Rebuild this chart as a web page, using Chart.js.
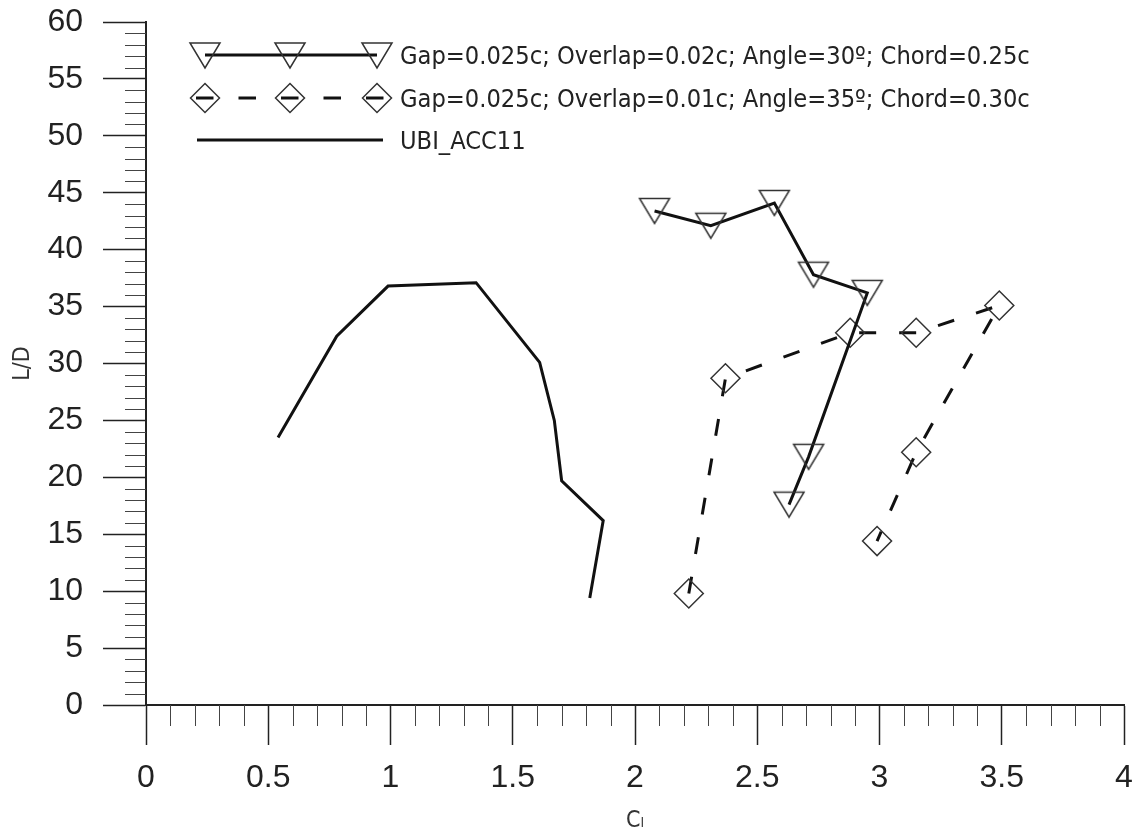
<!DOCTYPE html>
<html>
<head>
<meta charset="utf-8">
<script src="https://cdn.jsdelivr.net/npm/chart.js@4/dist/chart.umd.min.js"></script>
<style>
  body { margin: 0; background: #fff; }
  #wrap { position: relative; width: 1142px; height: 839px; }
  #legend { position: absolute; left: 0; top: 0; font-family: "DejaVu Sans Condensed", "DejaVu Sans", sans-serif; font-size: 25.2px; color: #222; }
  .row { position: absolute; left: 188px; height: 40px; display: flex; align-items: center; white-space: nowrap; }
  .row svg { display: block; }
</style>
</head>
<body>
<div id="wrap">
  <canvas id="my-chart" width="1142" height="839"></canvas>
  <div id="legend"></div>
</div>
<script>
// UBI_ACC11 baseline airfoil
const ubiCl = [0.54, 0.78, 0.99, 1.35, 1.61, 1.67, 1.70, 1.87, 1.815];
const ubiLD = [23.5, 32.4, 36.8, 37.1, 30.1, 25.0, 19.7, 16.2, 9.4];
// Gap=0.025c; Overlap=0.02c; Angle=30; Chord=0.25c
const cfg30Cl = [2.08, 2.31, 2.57, 2.73, 2.95, 2.71, 2.63];
const cfg30LD = [43.4, 42.1, 44.1, 37.8, 36.2, 21.8, 17.6];
// Gap=0.025c; Overlap=0.01c; Angle=35; Chord=0.30c
const cfg35Cl = [2.22, 2.37, 2.88, 3.15, 3.49, 3.15, 2.99];
const cfg35LD = [9.8, 28.7, 32.7, 32.7, 35.1, 22.2, 14.4];

const seriesNames = [
  'Gap=0.025c; Overlap=0.02c; Angle=30º; Chord=0.25c',
  'Gap=0.025c; Overlap=0.01c; Angle=35º; Chord=0.30c',
  'UBI_ACC11'
];

// axis ranges and ticks
const xRange = [0, 4];
const yRange = [0, 60];
const xMajorStep = 0.5, xMinorStep = 0.1;
const yMajorStep = 5, yMinorStep = 1;
const xTitle = 'Cₗ';
const yTitle = 'L/D';

const toPoints = (xs, ys) => xs.map((x, i) => ({ x: x, y: ys[i] }));

// hollow down-pointing triangle used as marker
function makeTriangle() {
  const c = document.createElement('canvas');
  c.width = 34; c.height = 30;
  const g = c.getContext('2d');
  g.strokeStyle = '#333';
  g.lineWidth = 1.5;
  g.beginPath();
  g.moveTo(2, 2.5); g.lineTo(32, 2.5); g.lineTo(17, 27.5); g.closePath();
  g.stroke();
  return c;
}
const triMarker = makeTriangle();

// small ticks between the labelled ones
const minorTicks = {
  id: 'minorTicks',
  afterDraw(chart) {
    const { ctx, scales: { x, y } } = chart;
    ctx.save();
    ctx.strokeStyle = '#444';
    ctx.lineWidth = 1;
    ctx.beginPath();
    const nx = Math.round((xRange[1] - xRange[0]) / xMinorStep);
    for (let i = 0; i <= nx; i++) {
      if (i % Math.round(xMajorStep / xMinorStep) === 0) continue;
      const px = Math.round(x.getPixelForValue(xRange[0] + i * xMinorStep)) + 0.5;
      ctx.moveTo(px, x.top);
      ctx.lineTo(px, x.top + 21);
    }
    const ny = Math.round((yRange[1] - yRange[0]) / yMinorStep);
    for (let i = 0; i <= ny; i++) {
      if (i % Math.round(yMajorStep / yMinorStep) === 0) continue;
      const py = Math.round(y.getPixelForValue(yRange[0] + i * yMinorStep)) + 0.5;
      ctx.moveTo(y.right - 21, py);
      ctx.lineTo(y.right, py);
    }
    ctx.stroke();
    ctx.restore();
  }
};

const tickFont = { family: '"Liberation Sans", Arial, sans-serif', size: 32 };
const titleFont = { family: '"DejaVu Sans Condensed", "DejaVu Sans", sans-serif', size: 23 };
const fmt = v => String(Number(v.toFixed(2)));

const ctx = document.getElementById('my-chart').getContext('2d');
const chart = new Chart(ctx, {
  type: 'scatter',
  data: {
    datasets: [
      {
        label: seriesNames[2],
        data: toPoints(ubiCl, ubiLD),
        showLine: true,
        borderColor: '#111',
        borderWidth: 3,
        pointRadius: 0
      },
      {
        label: seriesNames[0],
        data: toPoints(cfg30Cl, cfg30LD),
        showLine: true,
        borderColor: '#111',
        borderWidth: 3,
        pointStyle: triMarker,
        pointRadius: 15
      },
      {
        label: seriesNames[1],
        data: toPoints(cfg35Cl, cfg35LD),
        showLine: true,
        borderColor: '#111',
        borderWidth: 3,
        borderDash: [17, 23],
        pointStyle: 'rectRot',
        pointRadius: 14.5,
        pointBorderWidth: 1.5,
        pointBorderColor: '#333',
        pointBackgroundColor: 'rgba(0,0,0,0)'
      }
    ]
  },
  options: {
    responsive: false,
    animation: false,
    events: [],
    layout: { padding: { top: 22, right: 11, left: 0, bottom: 0 } },
    plugins: { legend: { display: false }, tooltip: { enabled: false } },
    scales: {
      x: {
        type: 'linear',
        min: xRange[0], max: xRange[1],
        afterFit(s) { s.height = 134; s.paddingLeft = 0; s.paddingRight = 0; },
        border: { color: '#222', width: 2 },
        grid: { drawOnChartArea: false, drawTicks: true, tickLength: 40, tickColor: '#222', tickWidth: 1.5 },
        ticks: { stepSize: xMajorStep, padding: 14, color: '#222', font: tickFont, maxRotation: 0, callback: fmt },
        title: { display: true, text: xTitle, color: '#333', font: titleFont, padding: { top: 0, bottom: 4 } }
      },
      y: {
        type: 'linear',
        min: yRange[0], max: yRange[1],
        afterFit(s) { s.width = 146; s.paddingTop = 0; s.paddingBottom = 0; },
        border: { color: '#222', width: 2 },
        grid: { drawOnChartArea: false, drawTicks: true, tickLength: 43, tickColor: '#222', tickWidth: 1.5 },
        ticks: { stepSize: yMajorStep, padding: 20, color: '#222', font: tickFont, callback: fmt },
        title: { display: true, text: yTitle, color: '#333', font: titleFont, padding: { top: 9, bottom: 0 } }
      }
    }
  },
  plugins: [minorTicks]
});

// legend: line with three markers, then the label
function legendSymbol(kind) {
  const xs = [17, 102, 189];
  let s = '<svg width="212" height="40" xmlns="http://www.w3.org/2000/svg">';
  if (kind === 'tri') {
    s += '<line x1="17" y1="20" x2="189" y2="20" stroke="#111" stroke-width="3"/>';
    xs.forEach(cx => {
      s += `<polygon points="${cx - 15},8 ${cx + 15},8 ${cx},33" fill="none" stroke="#333" stroke-width="1.5"/>`;
    });
  } else if (kind === 'dia') {
    s += '<line x1="8" y1="20" x2="196" y2="20" stroke="#111" stroke-width="3" stroke-dasharray="17.5 25"/>';
    xs.forEach(cx => {
      s += `<polygon points="${cx - 14.5},20 ${cx},5.5 ${cx + 14.5},20 ${cx},34.5" fill="none" stroke="#333" stroke-width="1.5"/>`;
    });
  } else {
    s += '<line x1="9" y1="20" x2="195" y2="20" stroke="#111" stroke-width="3"/>';
  }
  return s + '</svg>';
}

const legendRows = [
  { kind: 'tri', text: seriesNames[0], top: 35 },
  { kind: 'dia', text: seriesNames[1], top: 78 },
  { kind: 'line', text: seriesNames[2], top: 120 }
];
const legendEl = document.getElementById('legend');
legendRows.forEach(r => {
  const row = document.createElement('div');
  row.className = 'row';
  row.style.top = r.top + 'px';
  row.innerHTML = legendSymbol(r.kind) + '<span>' + r.text + '</span>';
  legendEl.appendChild(row);
});
</script>
</body>
</html>
